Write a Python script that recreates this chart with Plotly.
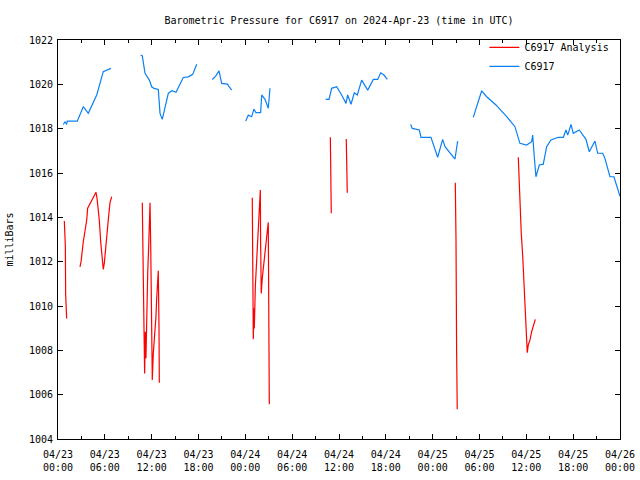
import pandas as pd
import plotly.graph_objects as go

# hours after 2024-04-23 00:00 UTC ; None marks a gap in the record
obs_hours = [0.68, 0.9, 1.11, 1.19, 2.47, 2.82, 3.24, 3.88, 4.96, 5.8, 6.24, 6.79, None,
             10.59, 10.8, 11.15, 11.7, 12.0, 12.3, 12.85, 12.94, 13.07, 13.36, 13.7, 14.13,
             14.57, 15.12, 16.05, 16.7, 17.26, 17.46, 17.77, None,
             19.77, 20.2, 20.63, 20.97, 21.69, 22.25, None,
             24.04, 24.38, 24.81, 25.1, 25.36, 25.96, 26.1, 26.52, 26.94, 27.16, None,
             34.29, 34.72, 35.06, 35.7, 36.34, 36.9, 37.11, 37.54, 37.96, 38.35, 38.9,
             39.68, 40.4, 40.96, 41.34, 41.76, 42.19, None,
             45.18, 45.39, 46.29, 46.5, 47.78, 48.64, 49.28, 49.58, 50.86, 51.2, None,
             53.2, 54.28, 54.92, 56.11, 57.48, 58.54, 59.18, 60.04, 60.68, 60.81, 61.02,
             61.23, 61.66, 62.17, 62.6, 63.16, 64.09, 64.74, 65.08, 65.3, 65.72, 66.02,
             66.78, 67.64, 68.07, 68.37, 68.79, 69.14, 69.78, 70.07, 70.71, 71.22, 72.0]
obs_mb = [1018.19, 1018.31, 1018.19, 1018.34, 1018.34, 1018.61, 1018.99, 1018.69, 1019.52,
          1020.57, 1020.64, 1020.72, None,
          1021.32, 1021.28, 1020.5, 1020.19, 1019.89, 1019.82, 1019.77, 1019.21, 1018.69,
          1018.42, 1018.99, 1019.59, 1019.71, 1019.64, 1020.31, 1020.34, 1020.45, 1020.64,
          1020.91, None,
          1020.22, 1020.37, 1020.61, 1020.04, 1020.01, 1019.74, None,
          1018.34, 1018.61, 1018.54, 1018.88, 1018.72, 1018.72, 1019.52, 1019.32, 1018.92,
          1019.82, None,
          1019.32, 1019.32, 1019.82, 1019.89, 1019.52, 1019.14, 1019.52, 1019.1, 1019.62,
          1019.52, 1020.19, 1019.74, 1020.22, 1020.22, 1020.52, 1020.42, 1020.22, None,
          1018.19, 1018.01, 1017.94, 1017.61, 1017.61, 1016.71, 1017.52, 1017.19, 1016.63,
          1017.44, None,
          1018.51, 1019.71, 1019.44, 1019.07, 1018.54, 1018.09, 1017.34, 1017.26, 1017.41,
          1017.71, 1016.73, 1015.83, 1016.36, 1016.4, 1017.19, 1017.49, 1017.61, 1017.61,
          1017.94, 1017.71, 1018.19, 1017.79, 1017.94, 1017.52, 1016.96, 1017.19, 1017.44,
          1016.89, 1016.89, 1016.66, 1015.83, 1015.83, 1014.95]

ana_hours = [0.81, 0.94, 0.98, 1.11, None,
             2.82, 2.95, 3.24, 3.68, 3.8, 4.31, 4.87, 5.0, 5.16, 5.29, 5.47, 5.6, 5.72, 5.8,
             5.93, 6.1, 6.44, 6.66, 6.88, None,
             10.8, 10.85, 11.02, 11.1, 11.19, 11.27, 11.36, 11.49, 11.62, 11.7, 11.79, 11.88,
             12.0, 12.08, 12.21, 12.39, 12.55, 12.64, 12.72, 12.85, 12.94, 12.98, None,
             24.89, 24.94, 25.02, 25.11, 25.15, 25.28, 25.41, 25.53, 25.66, 25.79, 25.92,
             25.96, 26.04, 26.17, 26.3, 26.43, 26.56, 26.74, 26.86, 26.94, 26.99, 27.07, None,
             34.89, 34.97, 35.01, None,
             36.93, 37.02, 37.06, None,
             50.9, 50.99, 51.07, 51.15, None,
             58.97, 59.1, 59.23, 59.35, 59.53, 59.66, 59.79, 59.92, 60.04, 60.12, 60.25,
             60.47, 60.68, 60.89, 61.15]
ana_mb = [1013.83, 1012.72, 1010.54, 1009.44, None,
          1011.77, 1012.0, 1012.9, 1013.88, 1014.41, 1014.75, 1015.13, 1014.86, 1014.36,
          1013.88, 1012.9, 1012.4, 1011.92, 1011.65, 1011.92, 1012.67, 1013.88, 1014.66,
          1014.93, None,
          1014.66, 1012.72, 1008.88, 1006.96, 1008.84, 1007.64, 1010.12, 1011.44, 1012.72,
          1013.95, 1014.66, 1012.67, 1008.66, 1006.66, 1007.87, 1008.69, 1009.52, 1010.31,
          1011.13, 1011.59, 1009.07, 1006.54, None,
          1014.88, 1011.7, 1008.5, 1009.9, 1008.99, 1010.87, 1011.85, 1012.83, 1013.8,
          1014.75, 1015.23, 1012.9, 1010.57, 1011.25, 1011.74, 1012.15, 1012.6, 1013.12,
          1013.53, 1013.77, 1009.67, 1005.57, None,
          1017.61, 1015.91, 1014.18, None,
          1017.53, 1016.31, 1015.11, None,
          1015.56, 1012.98, 1007.89, 1005.34, None,
          1016.71, 1015.23, 1014.25, 1013.28, 1012.3, 1011.32, 1010.35, 1009.37, 1008.39,
          1007.89, 1008.24, 1008.47, 1008.84, 1009.14, 1009.4]

start = pd.Timestamp("2024-04-23 00:00")


def to_time(hours):
    return [None if h is None else start + pd.Timedelta(hours=h) for h in hours]


FONT = "DejaVu Sans Mono"

fig = go.Figure()
fig.add_trace(go.Scatter(x=to_time(ana_hours), y=ana_mb, mode="lines",
                         name="C6917 Analysis", line=dict(color="#ff0000", width=1.2),
                         connectgaps=False))
fig.add_trace(go.Scatter(x=to_time(obs_hours), y=obs_mb, mode="lines",
                         name="C6917", line=dict(color="#0a80f5", width=1.2),
                         connectgaps=False))

fig.update_layout(
    width=640, height=480,
    margin=dict(l=58, r=20, t=40, b=41, autoexpand=False),
    paper_bgcolor="white", plot_bgcolor="white",
    font=dict(family=FONT, size=10, color="black"),
    title=dict(text="Barometric Pressure for C6917 on 2024-Apr-23 (time in UTC)",
               x=0.5, xref="paper", xanchor="center", y=0.958, yanchor="middle",
               font=dict(family=FONT, size=10)),
    showlegend=True,
    legend=dict(x=0.99, y=1.018, xanchor="right", yanchor="top",
                bgcolor="rgba(0,0,0,0)", font=dict(family=FONT, size=10),
                tracegroupgap=0, itemwidth=30),
    xaxis=dict(
        type="date",
        range=[start, start + pd.Timedelta(hours=72)],
        dtick=6 * 3600 * 1000, tick0=start,
        tickformat="%m/%d<br>%H:%M",
        ticks="inside", ticklen=5, tickcolor="black",
        minor=dict(dtick=3 * 3600 * 1000, ticks="inside", ticklen=3, tickcolor="black"),
        showline=True, linecolor="black", linewidth=1, mirror="ticks",
        showgrid=False, zeroline=False, ticklabelstandoff=6,
        tickfont=dict(family=FONT, size=10),
    ),
    yaxis=dict(
        range=[1004, 1022], dtick=2, tick0=1004,
        ticks="inside", ticklen=5, tickcolor="black",
        showline=True, linecolor="black", linewidth=1, mirror="ticks",
        showgrid=False, zeroline=False, ticklabelstandoff=2,
        title=dict(text="milliBars", font=dict(family=FONT, size=10), standoff=13),
        tickfont=dict(family=FONT, size=10),
    ),
)

fig.write_html("out.html", config={"displayModeBar": False},
               post_script="document.body.style.margin='0';")
